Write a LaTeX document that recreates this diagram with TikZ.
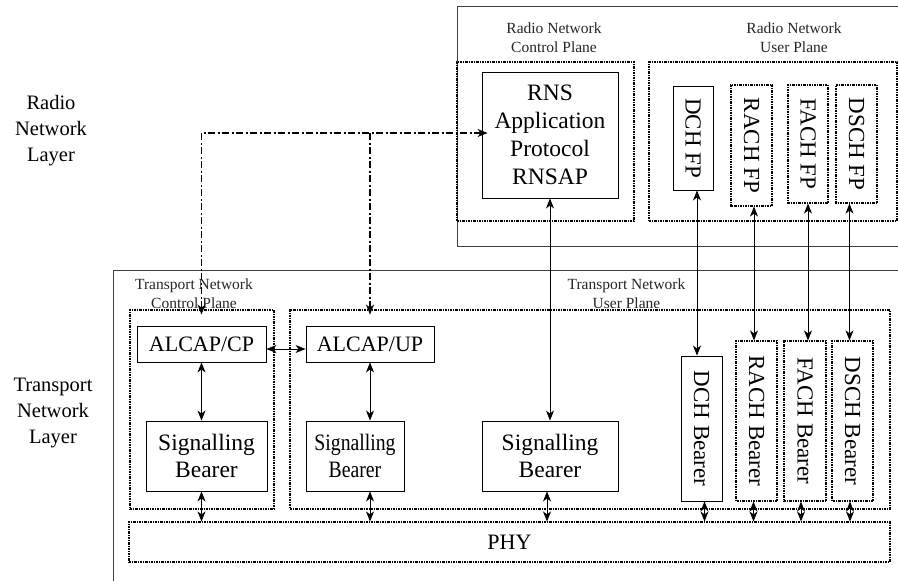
\documentclass[tikz,border=0pt]{standalone}
\usepackage{fontspec}
\setmainfont{Liberation Serif}
\newfontfamily\narrowserif[FakeStretch=0.84]{Liberation Serif}
\usetikzlibrary{arrows.meta}
\begin{document}
\begin{tikzpicture}[x=1pt,y=-1pt,
  layer/.style={draw=black!75, line width=0.9pt},
  solidbox/.style={draw, line width=0.9pt, inner sep=0pt, align=center},
  dotbox/.style={draw, line width=1.2pt, dash pattern=on 2.4pt off 1pt on 1pt off 1pt, inner sep=0pt, align=center},
  big/.style={font=\fontsize{23.5}{27.8}\selectfont},
  narrowbig/.style={font=\narrowserif\fontsize{23.5}{27.8}\selectfont},
  mid/.style={font=\fontsize{22}{27}\selectfont},
  vtext/.style={rotate=-90, font=\fontsize{23}{27}\selectfont},
  lbl/.style={align=center, text=black!85, font=\fontsize{15.5}{19}\selectfont, inner sep=0pt},
  side/.style={align=center, font=\fontsize{20.5}{26}\selectfont, inner sep=0pt},
  tip/.tip={Stealth[length=10pt,width=8pt,inset=3pt]},
  arr/.style={line width=0.8pt, tip-tip},
  dd/.style={line width=1.3pt, dash pattern=on 7pt off 2.5pt on 2pt off 2.5pt}
]
\useasboundingbox (0,0) rectangle (898,581);

% layer frames
\draw[layer] (898,6) -- (457,6) -- (457,246) -- (898,246);
\draw[layer] (898,270) -- (113,270) -- (113,581);

% side labels
\node[side] (rnl) at (51,131) {Radio\\Network\\Layer};
\node[side] (tnl) at (53,413) {Transport\\Network\\Layer};

% radio network layer
\node[lbl] (rncpl) at (554,37.5) {Radio Network\\Control Plane};
\node[lbl] (rnupl) at (794,37.5) {Radio Network\\User Plane};
\node[dotbox, minimum width=177pt, minimum height=159pt] (rncp) at (545.5,141.5) {};
\node[dotbox, minimum width=248pt, minimum height=159pt] (rnup) at (773,141.5) {};
\node[solidbox, big, minimum width=136pt, minimum height=126pt] (rnsap) at (550,135) {RNS\\Application\\Protocol\\RNSAP};
\node[solidbox, vtext, minimum width=104pt, minimum height=40pt] (dchfp) at (693,138) {DCH FP};
\node[dotbox, vtext, minimum width=121pt, minimum height=41pt] (rachfp) at (751.5,145.5) {RACH FP};
\node[dotbox, vtext, minimum width=118pt, minimum height=40pt] (fachfp) at (808,144) {FACH FP};
\node[dotbox, vtext, minimum width=118pt, minimum height=41pt] (dschfp) at (856.5,144) {DSCH FP};

% transport network layer
\node[lbl] (tncpl) at (194,293.5) {Transport Network\\Control Plane};
\node[lbl] (tnupl) at (626.5,293.5) {Transport Network\\User Plane};
\node[dotbox, minimum width=144pt, minimum height=199pt] (tncp) at (202,409.5) {};
\node[dotbox, minimum width=600pt, minimum height=199pt] (tnup) at (590,409.5) {};
\node[solidbox, mid, minimum width=129pt, minimum height=36pt] (alcapcp) at (201.5,344) {ALCAP/CP};
\node[solidbox, mid, minimum width=128pt, minimum height=36pt] (alcapup) at (370,344) {ALCAP/UP};
\node[solidbox, big, minimum width=121pt, minimum height=70pt] (sb1) at (206.5,456) {Signalling\\Bearer};
\node[solidbox, narrowbig, minimum width=98pt, minimum height=70pt] (sb2) at (355,456) {Signalling\\Bearer};
\node[solidbox, big, minimum width=136pt, minimum height=70pt] (sb3) at (550,456) {Signalling\\Bearer};
\node[solidbox, vtext, minimum width=145pt, minimum height=41pt] (dchb) at (701.5,428.5) {DCH Bearer};
\node[dotbox, vtext, minimum width=160pt, minimum height=41pt] (rachb) at (756.5,421) {RACH Bearer};
\node[dotbox, vtext, minimum width=160pt, minimum height=42pt] (fachb) at (805,421) {FACH Bearer};
\node[dotbox, vtext, minimum width=160pt, minimum height=41pt] (dschb) at (852.5,421) {DSCH Bearer};
\node[dotbox, mid, minimum width=761pt, minimum height=40pt] (phy) at (509.5,542) {PHY};

% connectors
\draw[arr] (rnsap.south) -- (rnsap.south |- sb3.north);
\draw[arr] ([xshift=4pt]dchfp.east) -- ([xshift=4pt]dchfp.east |- dchb.west);
\draw[arr] ([xshift=2.5pt]rachfp.east) -- ([xshift=2.5pt]rachfp.east |- rachb.west);
\draw[arr] (fachfp.east) -- (fachfp.east |- fachb.west);
\draw[arr] ([xshift=-7pt]dschfp.east) -- ([xshift=-7pt]dschfp.east |- dschb.west);

\draw[arr] (alcapcp.south) -- (alcapcp.south |- sb1.north);
\draw[arr] (alcapup.south) -- (alcapup.south |- sb2.north);
\draw[arr] ([yshift=-5pt]alcapcp.east) -- ([yshift=-5pt]alcapup.west);

\draw[arr] (alcapcp.south |- sb1.south) -- (alcapcp.south |- phy.north);
\draw[arr] (alcapup.south |- sb2.south) -- (alcapup.south |- phy.north);
\draw[arr] ([xshift=-3pt]sb3.south) -- ([xshift=-3pt]sb3.south |- phy.north);
\draw[arr] ([xshift=3pt]dchb.east) -- ([xshift=3pt]dchb.east |- phy.north);
\draw[arr] ([xshift=-3pt]rachb.east) -- ([xshift=-3pt]rachb.east |- phy.north);
\draw[arr] ([xshift=-4pt]fachb.east) -- ([xshift=-4pt]fachb.east |- phy.north);
\draw[arr] ([xshift=-2.5pt]dschb.east) -- ([xshift=-2.5pt]dschb.east |- phy.north);

% ALCAP signalling (dash-dot)
\coordinate (hl) at ([yshift=2pt,xshift=6pt]rnsap.west);
\coordinate (cpin) at ([yshift=11pt]alcapcp.north);
\coordinate (upin) at ([yshift=11pt]alcapup.north);
\draw[dd, tip-tip] (cpin) |- (hl);
\draw[dd, -tip] (upin |- hl) -- (upin);
\end{tikzpicture}
\end{document}
